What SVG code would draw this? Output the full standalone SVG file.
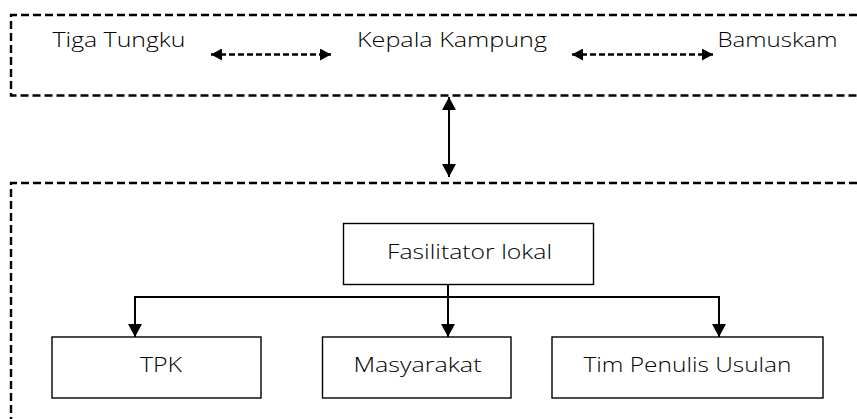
<svg xmlns="http://www.w3.org/2000/svg" width="857" height="419" viewBox="0 0 857 419">
<style>
.frame{fill:none;stroke:#000;stroke-width:2.4;stroke-dasharray:8 4}
.box{fill:#fff;stroke:#000;stroke-width:1.4}
.t{font-family:"Open Sans","Noto Sans",sans-serif;font-weight:300;font-size:20px;fill:#000}
.solid{fill:none;stroke:#000;stroke-width:2}
.dash{fill:none;stroke:#000;stroke-width:2.4;stroke-dasharray:6 3}
</style>
<defs>
<marker id="ah" markerUnits="userSpaceOnUse" markerWidth="14" markerHeight="14" refX="13" refY="7" orient="auto-start-reverse" viewBox="0 0 14 14">
<path d="M0,0 L13,7 L0,14 Z" fill="#000"/>
</marker>
<marker id="ahs" markerUnits="userSpaceOnUse" markerWidth="12" markerHeight="12" refX="11" refY="6" orient="auto-start-reverse" viewBox="0 0 12 12">
<path d="M0,0 L11,6 L0,12 Z" fill="#000"/>
</marker>
</defs>
<g id="frames">
<path class="frame" d="M857,15 H11 V95.5 H857"/>
<path class="frame" d="M857,183 H11 V419"/>
</g>
<g id="connectors">
<line class="dash" x1="211" y1="54.5" x2="331" y2="54.5" marker-start="url(#ahs)" marker-end="url(#ahs)"/>
<line class="dash" x1="572" y1="54.5" x2="713" y2="54.5" marker-start="url(#ahs)" marker-end="url(#ahs)"/>
<line class="solid" x1="449" y1="97" x2="449" y2="177" marker-start="url(#ah)" marker-end="url(#ah)"/>
<path class="solid" d="M135,337 V297 H719 V337" marker-start="url(#ah)" marker-end="url(#ah)"/>
<line class="solid" x1="448" y1="276" x2="448" y2="337" marker-end="url(#ah)"/>
</g>
<g id="tiga-tungku"><text class="t" x="52.5" y="47" textLength="133" lengthAdjust="spacingAndGlyphs">Tiga Tungku</text></g>
<g id="kepala-kampung"><text class="t" x="357" y="47" textLength="190" lengthAdjust="spacingAndGlyphs">Kepala Kampung</text></g>
<g id="bamuskam"><text class="t" x="717.5" y="47" textLength="120" lengthAdjust="spacingAndGlyphs">Bamuskam</text></g>
<g id="fasilitator">
<rect class="box" x="343.5" y="223.5" width="250" height="61"/>
<text class="t" x="387" y="258.5" textLength="165" lengthAdjust="spacingAndGlyphs">Fasilitator lokal</text>
</g>
<g id="tpk">
<rect class="box" x="52" y="337" width="209" height="61"/>
<text class="t" x="140" y="372" textLength="42" lengthAdjust="spacingAndGlyphs">TPK</text>
</g>
<g id="masyarakat">
<rect class="box" x="322.5" y="337" width="188.5" height="61"/>
<text class="t" x="353.5" y="372" textLength="128" lengthAdjust="spacingAndGlyphs">Masyarakat</text>
</g>
<g id="tim-penulis">
<rect class="box" x="552" y="337" width="271" height="61"/>
<text class="t" x="583.5" y="372" textLength="208" lengthAdjust="spacingAndGlyphs">Tim Penulis Usulan</text>
</g>
</svg>
